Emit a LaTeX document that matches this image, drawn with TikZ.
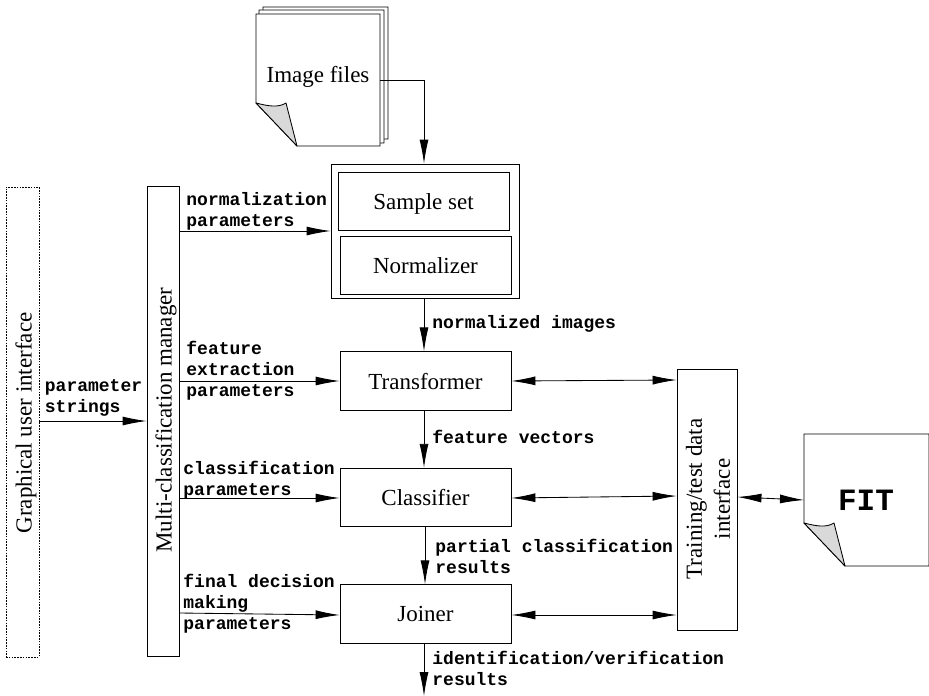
\documentclass[tikz,border=0pt]{standalone}
\usepackage{fontspec}
\setmainfont{Liberation Serif}
\newfontfamily\monob[Scale=1.0]{Liberation Mono}
\usetikzlibrary{arrows.meta}
\tikzset{
  every path/.style={line width=0.85pt},
  box/.style={draw=black,fill=white,line width=0.85pt,minimum width=171pt,minimum height=58.5pt,inner sep=0pt,text depth=0pt,font=\fontsize{23}{23}\selectfont},
  tall/.style={draw=black,fill=white,line width=0.85pt,inner sep=0pt},
  lab/.style={anchor=west,inner sep=0pt,align=left,font=\monob\bfseries\fontsize{18}{21}\selectfont},
  vtext/.style={rotate=90,inner sep=0pt,align=center,font=\fontsize{23}{28}\selectfont},
  conn/.style={-{Latex[length=24pt,width=9pt]},shorten >=0pt},
  dconn/.style={{Latex[length=24pt,width=9pt]}-{Latex[length=24pt,width=9pt]}},
  sheet/.style={draw=black,fill=white,line width=0.85pt},
  foldp/.style={draw=black,fill=black!15,line width=0.85pt,line join=round}
}
\begin{document}
\begin{tikzpicture}[x=1pt,y=-1pt]
\useasboundingbox (0,0) rectangle (929,696);
% image file stack
\draw[sheet] (263,7) -- (388,7) -- (388,139) -- (300,139) -- (263,100) -- cycle;
\draw[sheet] (259,10) -- (384,10) -- (384,143) -- (300,143) -- (259,100) -- cycle;
\draw[sheet] (256,14) -- (380,14) -- (380,146) -- (297,146) -- (256,103) -- cycle;
\draw[foldp] (256,103) .. controls (268,106) and (278,108) .. (286,103) -- (297,146) -- cycle;
\node[inner sep=0pt,font=\fontsize{23}{23}\selectfont] (imgtxt) at (318,77) {Image files};
\coordinate (imgout) at (380,80);
% outer box and inner
\node[draw=black,fill=white,line width=0.85pt,minimum width=188pt,minimum height=134pt,inner sep=0pt] (outer) at (425,231) {};
\node[box] (sample) at (423.5,201.5) {Sample set};
\node[box] (norm) at (425.5,265.5) {Normalizer};
\node[box] (trans) at (425.5,381) {Transformer};
\node[box] (classif) at (425.5,497.5) {Classifier};
\node[box] (joiner) at (425.5,614) {Joiner};
\node[tall,minimum width=60pt,minimum height=261pt] (train) at (707,499.5) {};
\node[vtext] (traintxt) at (708,499) {Training/test data\\interface};
\node[tall,minimum width=32pt,minimum height=470pt] (mgr) at (163,421) {};
\node[vtext] (mgrtxt) at (166,420) {Multi-classification manager};
\node[draw=black,dash pattern=on 1.6pt off 1.2pt,fill=white,line width=0.85pt,inner sep=0pt,minimum width=33pt,minimum height=470pt] (gui) at (22.5,422) {};
\node[vtext] (guitxt) at (26,423) {Graphical user interface};
% FIT file
\draw[sheet] (804,434) -- (929,434) -- (929,566) -- (845,566) -- (804,523) -- cycle;
\draw[foldp] (804,523) .. controls (816,526) and (826,528) .. (834,523) -- (845,566) -- cycle;
\node[inner sep=0pt,font=\monob\bfseries\fontsize{31}{31}\selectfont] (fit) at (866,500) {FIT};
\coordinate (fitin) at (804,500);
\coordinate (exitpt) at (424,696);
% connectors
\draw[conn] (imgout) -| (outer.north -| 424,0);
\draw[conn] (outer.south -| 424,0) -- (trans.north -| 424,0);
\draw[conn] (trans.south -| 424,0) -- (classif.north -| 424,0);
\draw[conn] (classif.south -| 425,0) -- (joiner.north -| 425,0);
\draw[conn] (joiner.south -| 424,0) -- (exitpt);
\draw[conn] (mgr.east |- 0,231) -- (outer.west |- 0,231);
\draw[conn] (mgr.east |- 0,381) -- (trans.west |- 0,381);
\draw[conn] (mgr.east |- 0,498) -- (classif.west |- 0,498);
\draw[conn] (mgr.east |- 0,613) -- (joiner.west |- 0,615);
\draw[conn] (gui.east |- 0,421) -- (mgr.west |- 0,421);
\draw[dconn] (trans.east |- 0,381) -- (train.west |- 0,380);
\draw[dconn] (classif.east |- 0,498) -- (train.west |- 0,496);
\draw[dconn] (joiner.east |- 0,615) -- (train.west |- 0,615);
\draw[dconn] (train.east |- 0,497) -- (fitin);
% labels
\node[lab] (l1) at (186,211) {normalization\\parameters};
\node[lab] (l2) at (432,324) {normalized images};
\node[lab] (l3) at (186,371) {feature\\extraction\\parameters};
\node[lab] (l4) at (44.5,398) {parameter\\strings};
\node[lab] (l5) at (432,437) {feature vectors};
\node[lab] (l6) at (183,480) {classification\\parameters};
\node[lab] (l7) at (435,556) {partial classification\\results};
\node[lab] (l8) at (183,604) {final decision\\making\\parameters};
\node[lab] (l9) at (432,668) {identification/verification\\results};
\end{tikzpicture}
\end{document}
